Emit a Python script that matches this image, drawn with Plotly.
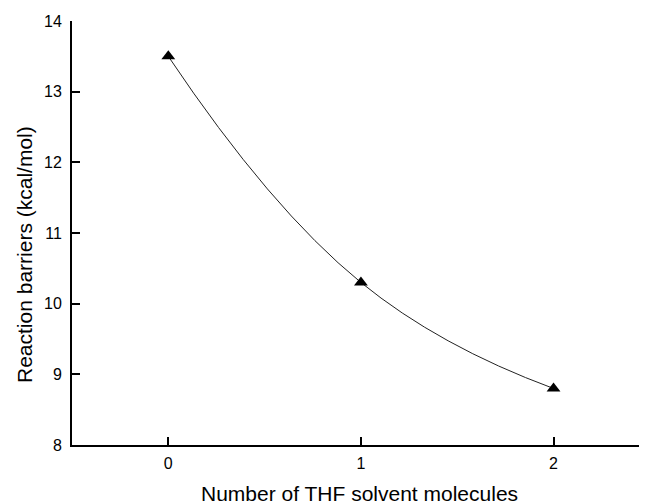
import plotly.graph_objects as go

# data
n_thf = [0, 1, 2]
barriers = [13.5, 10.3, 8.8]
x_ticks = [0, 1, 2]
y_ticks = [8, 9, 10, 11, 12, 13, 14]

fig = go.Figure()

# smooth curve through the points
fig.add_trace(go.Scatter(x=n_thf, y=barriers, mode="lines",
                         line=dict(color="#222222", width=1, shape="spline", smoothing=1.3),
                         hoverinfo="skip", showlegend=False))

# triangle markers
fig.add_trace(go.Scatter(x=n_thf, y=barriers, mode="markers",
                         marker=dict(symbol="triangle-up", size=12, color="black"),
                         showlegend=False))

FONT = "Liberation Sans, Arial"
axis_font = dict(family=FONT, size=16, color="black")

# page body adds 8px offset, so margins are shifted to compensate
fig.update_layout(
    width=647, height=504,
    margin=dict(l=64, r=9, t=13, b=67),
    plot_bgcolor="white", paper_bgcolor="white",
    font=dict(family=FONT, color="black"),
)
fig.update_xaxes(range=[-0.5, 2.48], tickvals=x_ticks, ticks="inside", ticklen=8,
                 tickwidth=1.5, tickcolor="black", showline=True, linecolor="black",
                 linewidth=2, showgrid=False, zeroline=False, tickfont=axis_font,
                 ticklabelstandoff=3, automargin=False)
fig.update_yaxes(range=[8, 14], tickvals=y_ticks, ticks="inside", ticklen=8,
                 tickwidth=1.5, tickcolor="black", showline=True, linecolor="black",
                 linewidth=2, showgrid=False, zeroline=False, tickfont=axis_font,
                 ticklabelstandoff=5, automargin=False)

# axis titles
fig.add_annotation(text="Number of THF solvent molecules", xref="paper", yref="paper",
                   x=0.5, y=-49 / 424, xanchor="center", yanchor="middle",
                   showarrow=False, font=dict(family=FONT, size=21, color="black"))
fig.add_annotation(text="Reaction barriers (kcal/mol)", xref="paper", yref="paper",
                   x=-47 / 574, y=(445 - 255) / 424, xanchor="center", yanchor="middle",
                   textangle=-90, showarrow=False, font=dict(family=FONT, size=21, color="black"))

fig.write_html("out.html")
